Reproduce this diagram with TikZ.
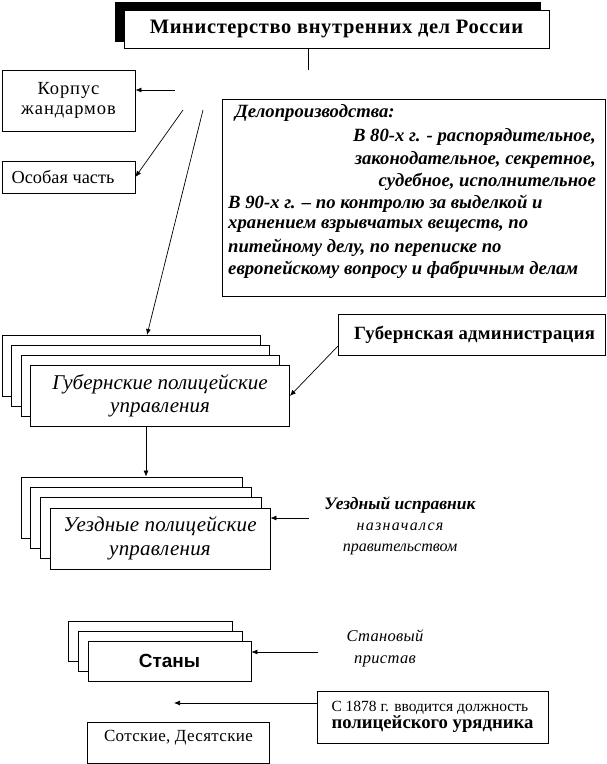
\documentclass[tikz,border=0pt]{standalone}
\usepackage{fontspec}
\setmainfont{Liberation Serif}
\newfontfamily\arialf{Liberation Sans}
\usetikzlibrary{arrows.meta}
\begin{document}
\begin{tikzpicture}[x=1pt,y=-1pt,
  box/.style={draw, line width=0.8pt, fill=white, inner sep=0pt, align=center},
  arr/.style={-{Latex[length=6pt,width=5pt]}, line width=0.7pt},
  txt/.style={inner sep=0pt},
  delof/.style={font=\fontsize{18.7}{22}\selectfont\bfseries\itshape}]
\useasboundingbox (0,0) rectangle (607,764);
\fill[white] (0,0) rectangle (607,764);

% title
\fill (115,2) rectangle (541,42);
\node[box, minimum width=425, minimum height=38, font=\fontsize{20.5}{24}\selectfont\bfseries\addfontfeatures{LetterSpace=3}] (title) at (336.5,29) {Министерство внутренних дел России};
\coordinate (hub) at (308,70);
\draw[line width=0.7pt] (title.south -| hub) -- (hub);

% left boxes
\node[box, minimum width=133, minimum height=61, font=\fontsize{18.5}{20}\selectfont\addfontfeatures{LetterSpace=5}] (korpus) at (68.5,100.5) {Корпус\\жандармов};
\node[box, minimum width=133, minimum height=32] (osob) at (68.5,177) {};
\node[txt, font=\fontsize{18.3}{20}\selectfont] (osobtxt) at (63,177) {Особая часть};
\coordinate (c1) at (175,90);
\draw[arr] (c1) -- (c1 -| korpus.east);
\coordinate (c2) at (183,110);
\draw[arr] (c2) -- (osob.east);
\coordinate (c3) at (203,110);
\coordinate (gt) at (147,335);
\draw[arr] (c3) -- (gt);

% delo box
\node[box, minimum width=383, minimum height=197] (delo) at (413.5,197.5) {};
\node[txt, delof, anchor=west] (d1) at (235,113) {Делопроизводства:};
\node[txt, delof, anchor=east] (d2) at (596,137) {В 80-х г. - распорядительное,};
\node[txt, delof, anchor=east] (d3) at (596,160) {законодательное, секретное,};
\node[txt, delof, anchor=east] (d4) at (596,182) {судебное, исполнительное};
\node[txt, delof, anchor=west] (d5) at (228,204) {В 90-х г. – по контролю за выделкой и};
\node[txt, delof, anchor=west] (d6) at (228,226) {хранением взрывчатых веществ, по};
\node[txt, delof, anchor=west] (d7) at (228,248) {питейному делу, по переписке по};
\node[txt, delof, anchor=west] (d8) at (228,270) {европейскому вопросу и фабричным делам};

% gubernskie stack
\node[box, minimum width=258, minimum height=61] (gubA) at (131,366) {};
\node[box, minimum width=258, minimum height=61] (gubB) at (140.5,376) {};
\node[box, minimum width=258, minimum height=61] (gubC) at (150,386) {};
\node[box, minimum width=259, minimum height=61, font=\fontsize{21}{23}\selectfont\itshape] (gub) at (160,396) {Губернские полицейские\\управления};

\node[box, minimum width=267, minimum height=41, font=\fontsize{18.7}{22}\selectfont\bfseries\addfontfeatures{LetterSpace=1.5}] (gadm) at (471.5,334.5) {\hspace*{6pt}Губернская администрация};
\coordinate (ga) at (338,346);
\draw[arr] (ga) -- (gub.east);

% uezdnye stack
\coordinate (dn) at (146,450);
\node[box, minimum width=221, minimum height=61] (uezA) at (131.5,507.5) {};
\node[box, minimum width=221, minimum height=61] (uezB) at (141,517.5) {};
\node[box, minimum width=221, minimum height=61] (uezC) at (150.5,528) {};
\node[box, minimum width=220, minimum height=61, font=\fontsize{21}{24}\selectfont\itshape\addfontfeatures{LetterSpace=1}] (uez) at (160,538.5) {Уездные полицейские\\управления};
\draw[arr] (gub.south -| dn) -- (uezA.north -| dn);

\coordinate (c4) at (309,518);
\draw[arr] (c4) -- (c4 -| uez.east);
\node[txt, align=center, font=\fontsize{16}{21}\selectfont] (ispr) at (400,526) {{\fontsize{17.5}{21}\selectfont\bfseries\itshape Уездный исправник}\\{\itshape\addfontfeatures{LetterSpace=8}назначался}\\\itshape правительством};

% stany stack
\node[box, minimum width=164, minimum height=40] (stanA) at (150,641) {};
\node[box, minimum width=164, minimum height=40] (stanB) at (160,651) {};
\node[box, minimum width=163, minimum height=40, font=\fontsize{19}{22}\selectfont\arialf\bfseries] (stan) at (169.5,661) {Станы};
\coordinate (c5) at (318,652);
\draw[arr] (c5) -- (c5 -| stan.east);
\node[txt, align=center, font=\fontsize{16.5}{22}\selectfont\itshape\addfontfeatures{LetterSpace=2}] (prist) at (385,648) {Становый\\пристав};

% 1878
\node[box, minimum width=231, minimum height=52, align=left] (s1878) at (432.5,717) {{\fontsize{15.5}{20}\selectfont С 1878 г. вводится должность}\\{\fontsize{18.7}{21}\selectfont\bfseries полицейского урядника}};
\coordinate (c6) at (174,703);
\draw[arr] (c6 -| s1878.west) -- (c6);

% sotskie
\node[box, minimum width=182, minimum height=41] (sot) at (178,742.5) {};
\node[txt, font=\fontsize{17}{20}\selectfont\addfontfeatures{LetterSpace=2}] (sottxt) at (178.5,738) {Сотские, Десятские};
\end{tikzpicture}
\end{document}
